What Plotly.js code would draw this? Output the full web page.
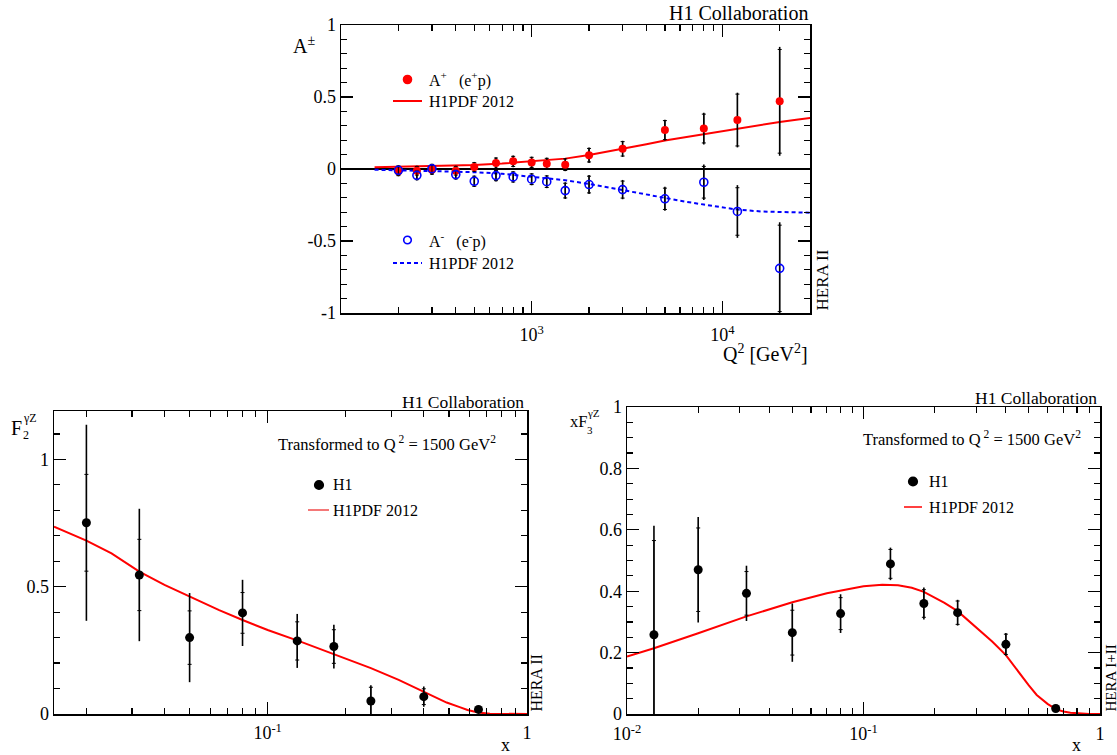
<!DOCTYPE html>
<html>
<head>
<meta charset="utf-8">
<script src="https://cdn.plot.ly/plotly-3.0.1.min.js"></script>
<style>
html,body{margin:0;padding:0;background:#fff;}
#chart{width:1117px;height:755px;}
</style>
</head>
<body>
<div id="chart"></div>
<script>
// ---------------- DATA ----------------
// Top panel: charge asymmetries A+ (e+p) and A- (e-p) vs Q2
var Q2 = [200, 250, 300, 400, 500, 650, 800, 1000, 1200, 1500, 2000, 3000, 5000, 8000, 12000, 20000];
var Aplus = [-0.016, -0.012, -0.006, -0.012, 0.014, 0.041, 0.053, 0.046, 0.037, 0.030, 0.096, 0.140, 0.270, 0.281, 0.340, 0.470];
var AplusTot = [0.035, 0.035, 0.035, 0.035, 0.035, 0.040, 0.040, 0.040, 0.042, 0.045, 0.054, 0.056, 0.072, 0.110, 0.190, 0.378];
var AplusStat = [0.030, 0.030, 0.030, 0.030, 0.030, 0.035, 0.035, 0.035, 0.037, 0.040, 0.047, 0.050, 0.066, 0.100, 0.180, 0.360];
var Aminus = [-0.009, -0.044, 0.002, -0.039, -0.085, -0.046, -0.055, -0.071, -0.088, -0.150, -0.108, -0.143, -0.207, -0.092, -0.295, -0.690];
var AminusTot = [0.035, 0.035, 0.035, 0.035, 0.040, 0.040, 0.040, 0.042, 0.045, 0.058, 0.066, 0.067, 0.083, 0.123, 0.183, 0.320];
var AminusStat = [0.030, 0.030, 0.030, 0.030, 0.035, 0.035, 0.035, 0.037, 0.040, 0.051, 0.058, 0.059, 0.074, 0.110, 0.165, 0.300];
// H1PDF 2012 predictions (top)
var Q2curve = [150, 200, 300, 400, 500, 700, 1000, 1250, 1500, 2000, 2500, 3000, 4000, 5000, 6500, 8000, 10000, 12000, 16000, 20000, 25000, 30000];
var AplusCurve = [0.012, 0.015, 0.019, 0.023, 0.028, 0.038, 0.052, 0.062, 0.072, 0.097, 0.120, 0.140, 0.172, 0.198, 0.222, 0.243, 0.265, 0.283, 0.308, 0.327, 0.343, 0.357];
var AminusCurve = [-0.005, -0.008, -0.013, -0.018, -0.022, -0.033, -0.052, -0.066, -0.078, -0.104, -0.128, -0.148, -0.180, -0.205, -0.228, -0.247, -0.266, -0.282, -0.295, -0.300, -0.303, -0.304];

// Bottom-left panel: F2^gammaZ vs x
var xF2 = [0.02, 0.032, 0.05, 0.08, 0.13, 0.18, 0.25, 0.4, 0.65];
var F2 = [0.751, 0.546, 0.300, 0.397, 0.287, 0.265, 0.051, 0.068, 0.018];
var F2Tot = [0.385, 0.260, 0.175, 0.130, 0.106, 0.086, 0.062, 0.040, 0.010];
var F2Stat = [0.190, 0.140, 0.105, 0.080, 0.075, 0.066, 0.054, 0.031, 0.008];
var xF2curve = [0.015, 0.02, 0.025, 0.032, 0.04, 0.05, 0.065, 0.08, 0.1, 0.133, 0.18, 0.25, 0.32, 0.4, 0.45, 0.49, 0.55, 0.59, 0.63, 0.66, 0.72, 0.79, 1.0];
var F2curve = [0.736, 0.681, 0.631, 0.559, 0.507, 0.461, 0.408, 0.369, 0.330, 0.285, 0.235, 0.180, 0.134, 0.088, 0.064, 0.045, 0.027, 0.016, 0.009, 0.005, 0.001, 0.0, 0.0];

// Bottom-right panel: xF3^gammaZ vs x
var xF3x = [0.013, 0.02, 0.032, 0.05, 0.08, 0.13, 0.18, 0.25, 0.4, 0.65];
var xF3 = [0.258, 0.470, 0.393, 0.265, 0.327, 0.489, 0.360, 0.330, 0.227, 0.018];
var xF3Tot = [0.355, 0.172, 0.090, 0.095, 0.063, 0.053, 0.052, 0.042, 0.037, 0.012];
var xF3Stat = [0.307, 0.136, 0.071, 0.073, 0.052, 0.047, 0.045, 0.038, 0.033, 0.010];
var xF3curveX = [0.01, 0.013, 0.02, 0.032, 0.05, 0.07, 0.1, 0.12, 0.14, 0.16, 0.18, 0.22, 0.25, 0.3, 0.35, 0.4, 0.43, 0.46, 0.5, 0.54, 0.6, 0.65, 0.7, 0.75, 0.82, 0.9, 1.0];
var xF3curve = [0.187, 0.214, 0.263, 0.318, 0.364, 0.393, 0.416, 0.421, 0.419, 0.411, 0.398, 0.362, 0.335, 0.283, 0.236, 0.192, 0.160, 0.127, 0.093, 0.062, 0.033, 0.016, 0.008, 0.004, 0.001, 0.0, 0.0];

// Tick labels
var topXTicks = [1000, 10000];
var topXTickText = ['10<sup>3</sup>', '10<sup>4</sup>'];
var topXMinor = [200, 300, 400, 500, 600, 700, 800, 900, 2000, 3000, 4000, 5000, 6000, 7000, 8000, 9000, 20000];
var topYTicks = [-1, -0.5, 0, 0.5, 1];
var topYTickText = ['-1', '-0.5', '0', '0.5', '1'];
var topYMinor = [-0.9, -0.8, -0.7, -0.6, -0.4, -0.3, -0.2, -0.1, 0.1, 0.2, 0.3, 0.4, 0.6, 0.7, 0.8, 0.9];
var blXTicks = [0.1, 1];
var blXTickText = ['10<sup>-1</sup>', '1'];
var xMinor = [0.02, 0.03, 0.04, 0.05, 0.06, 0.07, 0.08, 0.09, 0.2, 0.3, 0.4, 0.5, 0.6, 0.7, 0.8, 0.9];
var blYTicks = [0, 0.5, 1];
var blYTickText = ['0', '0.5', '1'];
var blYMinor = [0.1, 0.2, 0.3, 0.4, 0.6, 0.7, 0.8, 0.9, 1.1];
var brXTicks = [0.01, 0.1, 1];
var brXTickText = ['10<sup>-2</sup>', '10<sup>-1</sup>', '1'];
var brYTicks = [0, 0.2, 0.4, 0.6, 0.8, 1];
var brYTickText = ['0', '0.2', '0.4', '0.6', '0.8', '1'];
var brYMinor = [0.05, 0.1, 0.15, 0.25, 0.3, 0.35, 0.45, 0.5, 0.55, 0.65, 0.7, 0.75, 0.85, 0.9, 0.95];

// ---------------- LAYOUT HELPERS ----------------
var W = 1117, H = 755;
function px(x) { return x / W; }
function py(y) { return 1 - y / H; }
var FONT = '"Liberation Serif", "Times New Roman", Times, serif';

function errTrace(x, y, err, xa, ya) {
  return {x: x, y: y, xaxis: xa, yaxis: ya, type: 'scatter', mode: 'markers',
    marker: {size: 1, opacity: 0}, showlegend: false, hoverinfo: 'skip',
    error_y: {type: 'data', array: err, visible: true, color: '#000', thickness: 1.6, width: 0}};
}
function ptTrace(x, y, err, xa, ya, marker) {
  return {x: x, y: y, xaxis: xa, yaxis: ya, type: 'scatter', mode: 'markers',
    marker: marker, showlegend: false,
    error_y: {type: 'data', array: err, visible: true, color: '#000', thickness: 1, width: 2}};
}
function curveTrace(x, y, xa, ya, line) {
  return {x: x, y: y, xaxis: xa, yaxis: ya, type: 'scatter', mode: 'lines',
    line: line, showlegend: false, hoverinfo: 'skip'};
}

var traces = [
  curveTrace(Q2curve, AplusCurve, 'x', 'y', {color: '#ff0000', width: 2}),
  curveTrace(Q2curve, AminusCurve, 'x', 'y', {color: '#0000ff', width: 2, dash: '4px,3px'}),
  errTrace(Q2, Aplus, AplusTot, 'x', 'y'),
  errTrace(Q2, Aminus, AminusTot, 'x', 'y'),
  ptTrace(Q2, Aplus, AplusStat, 'x', 'y', {color: '#ff0000', size: 8, symbol: 'circle'}),
  ptTrace(Q2, Aminus, AminusStat, 'x', 'y', {color: '#0000ff', size: 8, symbol: 'circle-open', line: {color: '#0000ff', width: 1.6}}),

  curveTrace(xF2curve, F2curve, 'x2', 'y2', {color: '#ff0000', width: 2}),
  errTrace(xF2, F2, F2Tot, 'x2', 'y2'),
  ptTrace(xF2, F2, F2Stat, 'x2', 'y2', {color: '#000', size: 9, symbol: 'circle'}),

  curveTrace(xF3curveX, xF3curve, 'x3', 'y3', {color: '#ff0000', width: 2}),
  errTrace(xF3x, xF3, xF3Tot, 'x3', 'y3'),
  ptTrace(xF3x, xF3, xF3Stat, 'x3', 'y3', {color: '#000', size: 9, symbol: 'circle'})
];

function axisBase(extra) {
  var a = {showline: true, mirror: 'ticks', linecolor: '#000', linewidth: 1.5,
    ticks: 'inside', ticklen: 12, tickwidth: 1.2, tickcolor: '#000',
    showgrid: false, zeroline: false, tickmode: 'array', fixedrange: true,
    tickfont: {family: FONT, size: 18, color: '#000'}};
  for (var k in extra) a[k] = extra[k];
  return a;
}
function minor(vals) {
  return {tickmode: 'array', tickvals: vals, ticks: 'inside', ticklen: 6, tickwidth: 1.2, tickcolor: '#000'};
}

var layout = {
  width: W, height: H,
  margin: {l: 0, r: 0, t: 0, b: 0},
  paper_bgcolor: '#fff', plot_bgcolor: 'rgba(0,0,0,0)',
  showlegend: false,
  font: {family: FONT, color: '#000'},
  xaxis: axisBase({type: 'log', range: [2, 4.46], domain: [px(341), px(810)], anchor: 'y',
    tickvals: topXTicks, ticktext: topXTickText, minor: minor(topXMinor), ticklabelstandoff: 5}),
  yaxis: axisBase({range: [-1, 1], domain: [py(313), py(25)], anchor: 'x',
    tickvals: topYTicks, ticktext: topYTickText, minor: minor(topYMinor),
    zeroline: true, zerolinecolor: '#000', zerolinewidth: 1.6}),
  xaxis2: axisBase({type: 'log', range: [Math.log10(0.015), 0], domain: [px(54), px(527)], anchor: 'y2',
    tickvals: blXTicks, ticktext: blXTickText, minor: minor(xMinor), ticklabelstandoff: 2}),
  yaxis2: axisBase({range: [0, 1.19], domain: [py(714), py(411)], anchor: 'x2',
    tickvals: blYTicks, ticktext: blYTickText, minor: minor(blYMinor)}),
  xaxis3: axisBase({type: 'log', range: [-2, 0], domain: [px(627), px(1100)], anchor: 'y3',
    tickvals: brXTicks, ticktext: brXTickText, minor: minor(xMinor), ticklabelstandoff: 3}),
  yaxis3: axisBase({range: [0, 1], domain: [py(714), py(407)], anchor: 'x3',
    tickvals: brYTicks, ticktext: brYTickText, minor: minor(brYMinor)}),
  annotations: [],
  shapes: []
};

function txt(text, x, y, size, xanchor, extra) {
  var a = {text: text, xref: 'paper', yref: 'paper', x: px(x), y: py(y),
    xanchor: xanchor || 'left', yanchor: 'middle', showarrow: false,
    font: {family: FONT, size: size, color: '#000'}};
  if (extra) for (var k in extra) a[k] = extra[k];
  layout.annotations.push(a);
}
function dot(cx, cy, r, fill, lineColor) {
  layout.shapes.push({type: 'circle', xref: 'paper', yref: 'paper',
    x0: px(cx - r), x1: px(cx + r), y0: py(cy + r), y1: py(cy - r),
    fillcolor: fill, line: {color: lineColor, width: 1.6}});
}
function seg(x0, x1, y, color, dash) {
  layout.shapes.push({type: 'line', xref: 'paper', yref: 'paper',
    x0: px(x0), x1: px(x1), y0: py(y), y1: py(y),
    line: {color: color, width: 2, dash: dash || 'solid'}});
}

// Top panel texts
txt('H1 Collaboration', 810, 13, 20, 'right');
txt('A<sup>±</sup>', 291, 45, 20, 'left');
txt('Q<sup>2</sup> [GeV<sup>2</sup>]', 810, 353, 20, 'right');
dot(407.5, 79.5, 4, '#ff0000', '#ff0000');
txt('A<sup>+</sup>   (e<sup>+</sup>p)', 427, 79, 16, 'left');
seg(393, 422, 101, '#ff0000');
txt('H1PDF 2012', 427, 101, 16, 'left');
dot(407.5, 240, 3.8, 'rgba(0,0,0,0)', '#0000ff');
txt('A<sup>-</sup>   (e<sup>-</sup>p)', 427, 240, 16, 'left');
seg(393, 422, 263, '#0000ff', '4px,3px');
txt('H1PDF 2012', 427, 263, 16, 'left');
txt('HERA II', 822, 313, 17, 'center', {textangle: -90, yanchor: 'bottom'});

// Bottom-left texts
txt('H1 Collaboration', 526, 402, 17.5, 'right');
txt('F', 9, 428, 20, 'left');
txt('γZ', 21, 418, 12, 'left');
txt('2', 21, 435, 12, 'left');
txt('Transformed to Q<sup> 2</sup> = 1500 GeV<sup>2</sup>', 276, 443, 16.5, 'left');
dot(319, 485, 4.3, '#000', '#000');
txt('H1', 331, 485, 16, 'left');
seg(308, 329, 510, '#f47878');
txt('H1PDF 2012', 331, 510, 16, 'left');
txt('x', 505, 745, 18, 'center');
txt('HERA II', 536, 714, 16, 'center', {textangle: -90, yanchor: 'bottom'});

// Bottom-right texts
txt('H1 Collaboration', 1099, 398, 17.5, 'right');
txt('xF', 568, 422, 16.5, 'left');
txt('γZ', 585, 413, 11, 'left');
txt('3', 585, 430, 11, 'left');
txt('Transformed to Q<sup> 2</sup> = 1500 GeV<sup>2</sup>', 861, 438, 16.5, 'left');
dot(913, 481.5, 4.3, '#000', '#000');
txt('H1', 927, 481.5, 16, 'left');
seg(904, 922, 507, '#ff4040');
txt('H1PDF 2012', 927, 507, 16, 'left');
txt('x', 1076, 745, 18, 'center');
txt('HERA I+II', 1110, 714, 15, 'center', {textangle: -90, yanchor: 'bottom'});

Plotly.newPlot('chart', traces, layout, {displayModeBar: false, staticPlot: true});
</script>
</body>
</html>
